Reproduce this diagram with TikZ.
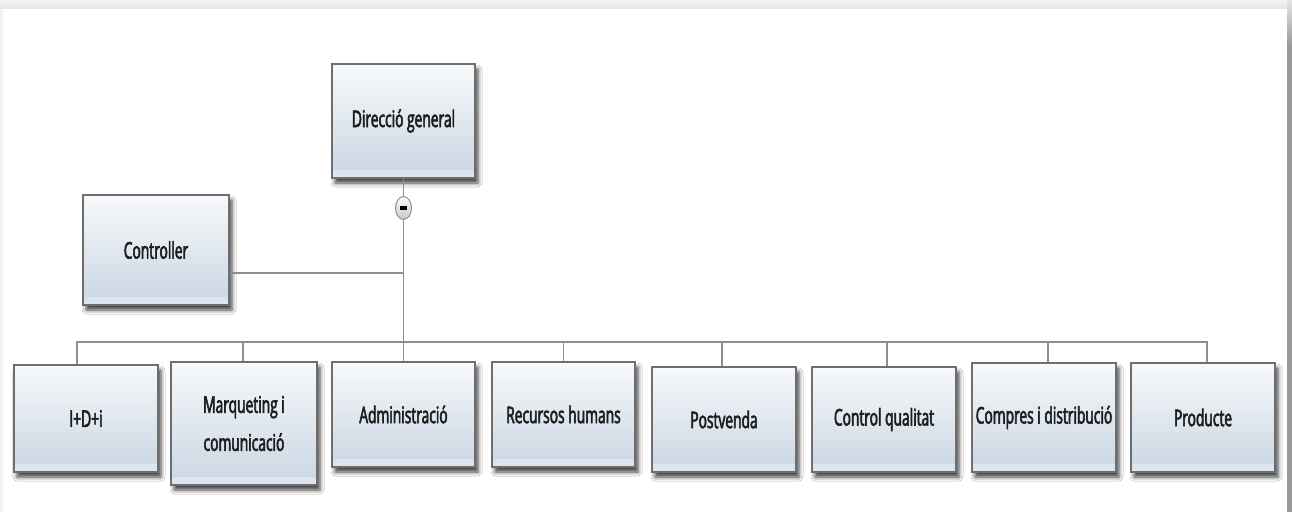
\documentclass[tikz,border=0pt]{standalone}
\usepackage{fontspec}
\setmainfont{Open Sans}[FakeStretch=0.6, FakeBold=2.5]
\usetikzlibrary{shapes.geometric,shadows.blur}
\definecolor{boxtop}{HTML}{F7F9FB}
\definecolor{boxbot}{HTML}{C9D6E2}
\definecolor{boxstrip}{HTML}{DCE5ED}
\definecolor{boxline}{HTML}{6E6E6E}
\definecolor{connline}{HTML}{8E8E8E}
\definecolor{textcol}{HTML}{1E1E1E}
\definecolor{framelight}{HTML}{F2F2F2}
\definecolor{framemid}{HTML}{E6E6E6}
\definecolor{framedark}{HTML}{9A9A9A}
\begin{document}
\begin{tikzpicture}[x=1pt,y=-1pt,
  orgbox/.style={draw=boxline, line width=1.2pt, top color=boxtop, bottom color=boxbot,
    text=textcol, font=\fontsize{23pt}{38pt}\selectfont, align=center, inner sep=2pt,
    blur shadow={shadow xshift=3pt, shadow yshift=-5pt, shadow blur radius=4pt, shadow opacity=75},
    path picture={\fill[boxstrip] ([yshift=1pt]path picture bounding box.south west)
      rectangle ([yshift=8pt]path picture bounding box.south east);}},
  conn/.style={draw=connline, line width=1.5pt},
  toggle/.style={ellipse, draw=connline, line width=1pt, top color=white, bottom color=black!22,
    minimum width=16pt, minimum height=23pt, inner sep=0pt,
    path picture={\fill[black] ([xshift=-3.5pt,yshift=-2pt]path picture bounding box.center)
      rectangle ([xshift=3.5pt,yshift=2pt]path picture bounding box.center);}}
]
\useasboundingbox (0,0) rectangle (1292,512);

% window frame
\shade[top color=framelight, bottom color=framemid] (0,0) rectangle (1292,9);
\fill[framelight] (0,9) rectangle (3,512);
\shade[top color=framemid, bottom color=framedark] (1287,0) rectangle (1292,45);
\fill[framedark] (1287,45) rectangle (1292,512);
\fill[white] (3,9) rectangle (1287,512);

% junction points of the tree
\coordinate (bus) at (403.5,342);
\coordinate (cj) at (403.5,273);

% boxes
\node[orgbox, minimum width=143pt, minimum height=114pt] (dir) at (403.5,121) {Direcció general};
\node[orgbox, minimum width=146pt, minimum height=110pt] (ctrl) at (156,250) {Controller};
\node[orgbox, minimum width=144pt, minimum height=107pt] (idi) at (86,418.5) {I+D+i};
\node[orgbox, minimum width=146pt, minimum height=123pt] (marq) at (244,423.5) {Marqueting i\\comunicació};
\node[orgbox, minimum width=143pt, minimum height=105pt] (admin) at (403.5,414.5) {Administració};
\node[orgbox, minimum width=143pt, minimum height=105pt] (rrhh) at (563.5,414.5) {Recursos humans};
\node[orgbox, minimum width=144pt, minimum height=105pt] (post) at (724,419.5) {Postvenda};
\node[orgbox, minimum width=144pt, minimum height=105pt] (ctrlq) at (884,419.5) {Control qualitat};
\node[orgbox, minimum width=144pt, minimum height=109pt] (compres) at (1044,417.5) {Compres i distribució};
\node[orgbox, minimum width=144pt, minimum height=109pt] (prod) at (1203,417.5) {Producte};

\node[toggle] (collapse) at (403.5,208) {};

% tree connectors
\draw[conn] (dir.south) -- (collapse.north);
\draw[conn] (collapse.south) -- (admin.north);
\draw[conn] (ctrl.east |- cj) -- (cj);
\draw[conn] ([xshift=-9pt]idi.north) |- (bus);
\draw[conn] ([xshift=-1pt]marq.north) |- (bus);
\draw[conn] (rrhh.north) |- (bus);
\draw[conn] ([xshift=-2pt]post.north) |- (bus);
\draw[conn] ([xshift=3pt]ctrlq.north) |- (bus);
\draw[conn] ([xshift=4pt]compres.north) |- (bus);
\draw[conn] ([xshift=4pt]prod.north) |- (bus);
\end{tikzpicture}
\end{document}
